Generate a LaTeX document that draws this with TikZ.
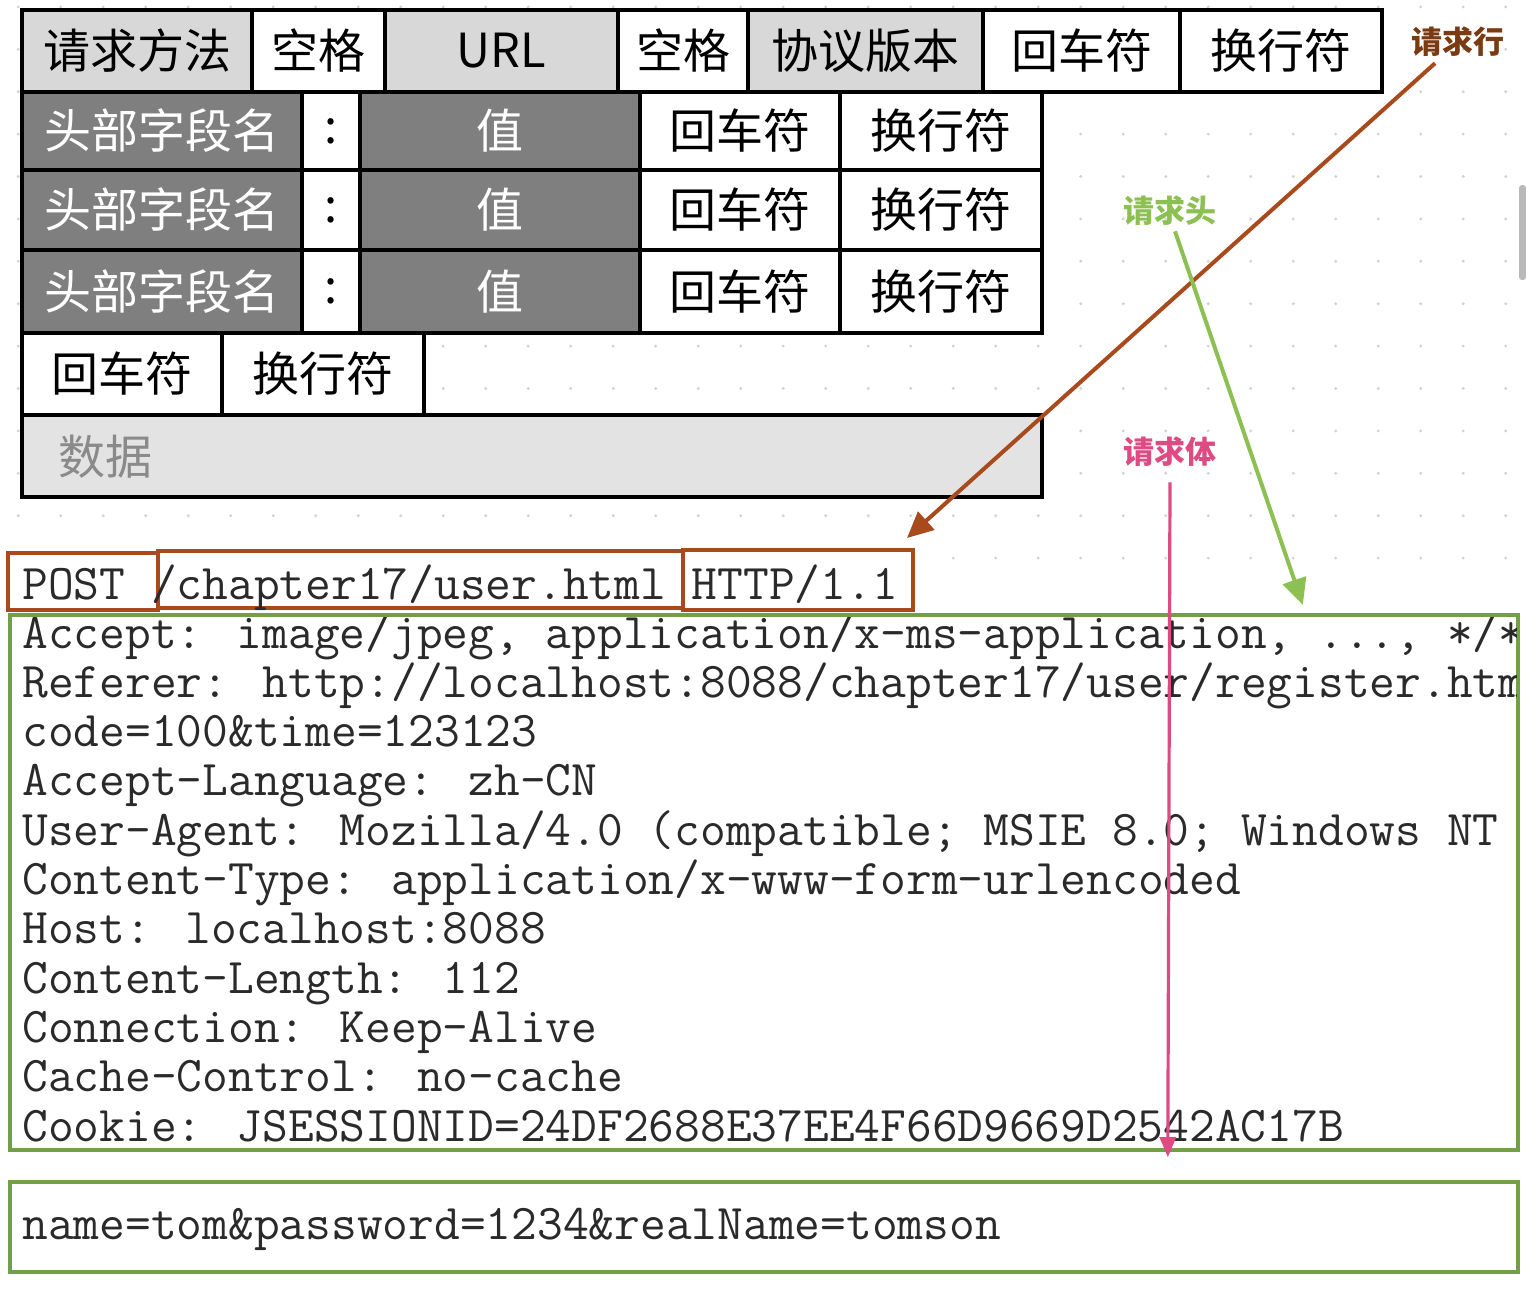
\documentclass[tikz,border=0pt]{standalone}
\usepackage{fontspec}
\newfontfamily\cjk{Noto Sans CJK SC}
\newfontfamily\codefont{Latin Modern Mono}
\usetikzlibrary{arrows.meta,calc}
\definecolor{cellLight}{HTML}{D8D8D8}
\definecolor{cellDark}{HTML}{7F7F7F}
\definecolor{dataFill}{HTML}{E3E3E3}
\definecolor{dataText}{HTML}{8A8A8A}
\definecolor{brownc}{HTML}{A84A1C}
\definecolor{brownLbl}{HTML}{7A3A12}
\definecolor{greenBox}{HTML}{72A046}
\definecolor{greenc}{HTML}{8DC052}
\definecolor{pinkc}{HTML}{DD4B82}
\definecolor{codeText}{HTML}{2A2A2A}
\definecolor{dotc}{HTML}{D2D2D2}
\tikzset{
  cell/.style={draw=black, line width=2.1pt, inner sep=0pt, outer sep=0pt,
    font=\cjk\fontsize{23.5}{23.5}\selectfont},
  lite/.style={cell, fill=cellLight},
  whitec/.style={cell, fill=white},
  dark/.style={cell, fill=cellDark, text=white},
  databox/.style={cell, fill=dataFill},
  lbl/.style={inner sep=0pt, font=\cjk\bfseries\fontsize{15.5}{15.5}\selectfont},
  codeline/.style={anchor=base west, inner sep=0pt,
    font=\codefont\fontsize{25}{25}\selectfont, text=codeText},
  brownbox/.style={draw=brownc, line width=2pt, inner sep=0pt},
  greenbox/.style={draw=greenBox, line width=2.2pt, inner sep=0pt},
  brownarrow/.style={draw=brownc, line width=2pt, -{Triangle[length=13pt,width=12pt]}},
  greenarrow/.style={draw=greenc, line width=2pt, -{Triangle[length=13pt,width=12pt]}},
  pinkarrow/.style={draw=pinkc, line width=1.6pt, -{Triangle[length=10pt,width=8pt]}}
}
\newcommand\Cell[7]{\node[#6, minimum width={(#4-#2)*0.5pt}, minimum height={(#5-#3)*0.5pt}] (#1) at ({(#2+#4)/2},{(#3+#5)/2}) {#7};}
\newcommand\EmptyBox[6]{\node[#6, minimum width={(#4-#2)*0.5pt}, minimum height={(#5-#3)*0.5pt}] (#1) at ({(#2+#4)/2},{(#3+#5)/2}) {};}
\begin{document}
\begin{tikzpicture}[x=0.5pt,y=-0.5pt]
\fill[white] (0,0) rectangle (1526,1302);
\useasboundingbox (0,0) rectangle (1526,1302);
% dotted background grid
\foreach \i in {0,...,35}{
  \foreach \j in {0,...,12}{
    \fill[dotc] ({18.2+42.5*\i},{6.9+42.4*\j}) circle (1.6);
  }
}
\foreach \i in {22,...,35}{
  \fill[dotc] ({18.2+42.5*\i},558.1) circle (1.6);
}
% scrollbar
\fill[gray!55, rounded corners=1.5pt] (1519,185) rectangle (1526,280);

% ---- row 1: request line ----
\Cell{rA}{22}{10}{252}{92}{lite}{请求方法}
\Cell{rB}{252}{10}{385}{92}{whitec}{空格}
\Cell{rC}{385}{10}{618}{92}{lite}{URL}
\Cell{rD}{618}{10}{748}{92}{whitec}{空格}
\Cell{rE}{748}{10}{983}{92}{lite}{协议版本}
\Cell{rF}{983}{10}{1180}{92}{whitec}{回车符}
\Cell{rG}{1180}{10}{1382}{92}{whitec}{换行符}
% ---- rows 2-4: headers ----
\Cell{hAn}{22}{92}{302}{170}{dark}{头部字段名}
\Cell{hAc}{302}{92}{360}{170}{whitec}{:}
\Cell{hAv}{360}{92}{640}{170}{dark}{值}
\Cell{hAr}{640}{92}{840}{170}{whitec}{回车符}
\Cell{hAl}{840}{92}{1042}{170}{whitec}{换行符}
\Cell{hBn}{22}{170}{302}{250}{dark}{头部字段名}
\Cell{hBc}{302}{170}{360}{250}{whitec}{:}
\Cell{hBv}{360}{170}{640}{250}{dark}{值}
\Cell{hBr}{640}{170}{840}{250}{whitec}{回车符}
\Cell{hBl}{840}{170}{1042}{250}{whitec}{换行符}
\Cell{hCn}{22}{250}{302}{333}{dark}{头部字段名}
\Cell{hCc}{302}{250}{360}{333}{whitec}{:}
\Cell{hCv}{360}{250}{640}{333}{dark}{值}
\Cell{hCr}{640}{250}{840}{333}{whitec}{回车符}
\Cell{hCl}{840}{250}{1042}{333}{whitec}{换行符}
% ---- row 5: blank line ----
\Cell{eR}{22}{333}{222}{415}{whitec}{回车符}
\Cell{eL}{222}{333}{424}{415}{whitec}{换行符}
% ---- row 6: data ----
\EmptyBox{dataBox}{22}{415}{1042}{497}{databox}
\node[anchor=west, inner sep=0pt, text=dataText, font=\cjk\fontsize{23.5}{23.5}\selectfont] (dataTxt) at (58,457) {数据};

% ---- labels ----
\node[lbl, text=brownLbl] (lblLine) at (1458,42) {请求行};
\node[lbl, text=greenc] (lblHead) at (1170,211) {请求头};
\node[lbl, text=pinkc] (lblBody) at (1170,452) {请求体};

% ---- example request ----
\EmptyBox{bPost}{8}{553}{158}{610}{brownbox}
\EmptyBox{bUrl}{158}{551}{683}{608}{brownbox}
\EmptyBox{bVer}{683}{550}{913}{610}{brownbox}
\node[codeline] (reqLine) at (22,599) {POST /chapter17/user.html HTTP/1.1};

\EmptyBox{hdr}{10}{615}{1518}{1150}{greenbox}
\begin{scope}
\clip (12,617) rectangle (1516,1148);
\node[codeline] (l1) at (22,648.0) {Accept: image/jpeg, application/x-ms-application, ..., */*};
\node[codeline] (l2) at (22,697.3) {Referer: http://localhost:8088/chapter17/user/register.html};
\node[codeline] (l3) at (22,746.6) {code=100\&time=123123};
\node[codeline] (l4) at (22,795.9) {Accept-Language: zh-CN};
\node[codeline] (l5) at (22,845.2) {User-Agent: Mozilla/4.0 (compatible; MSIE 8.0; Windows NT 6.1)};
\node[codeline] (l6) at (22,894.5) {Content-Type: application/x-www-form-urlencoded};
\node[codeline] (l7) at (22,943.8) {Host: localhost:8088};
\node[codeline] (l8) at (22,993.1) {Content-Length: 112};
\node[codeline] (l9) at (22,1042.4) {Connection: Keep-Alive};
\node[codeline] (l10) at (22,1091.7) {Cache-Control: no-cache};
\node[codeline] (l11) at (22,1141.0) {Cookie: JSESSIONID=24DF2688E37EE4F66D9669D2542AC17B};
\end{scope}

\EmptyBox{bodyBox}{10}{1182}{1518}{1272}{greenbox}
\node[codeline] (bodyLine) at (22,1239) {name=tom\&password=1234\&realName=tomson};

% ---- arrows ----
\draw[brownarrow] ($(lblLine.south)+(-23,6)$) -- ($(bVer.north east)+(-8,-10)$);
\draw[greenarrow] ($(lblHead.south)+(5,5)$) -- ($(hdr.north west)+(1295,-8)$);
\draw[pinkarrow] ($(lblBody.south)+(0,15)$) -- ($(hdr.south west)+(1160,5)$);
\end{tikzpicture}
\end{document}
